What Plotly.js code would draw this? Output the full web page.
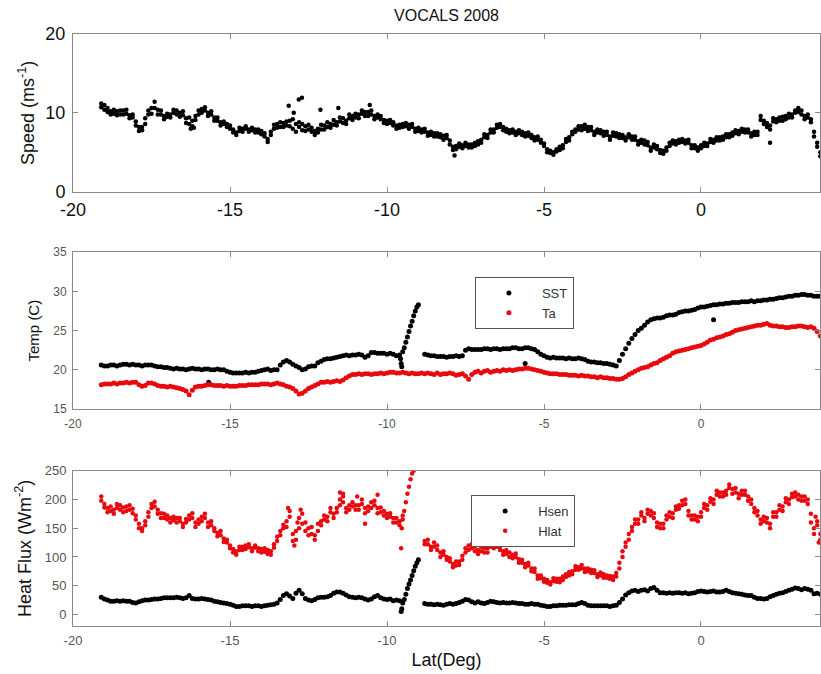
<!DOCTYPE html>
<html>
<head>
<meta charset="utf-8">
<script src="https://cdn.plot.ly/plotly-3.0.1.min.js"></script>
<style>html,body{margin:0;padding:0;background:#fff}#chart{width:821px;height:674px}</style>
</head>
<body>
<div id="chart"></div>
<script>
// Latitude sampling of the ship track (deg)
const lat = [
-19.1,-19,-18.9,-18.8,-18.7,-18.6,-18.5,-18.4,-18.3,-18.2,-18.1,
-18,-17.9,-17.8,-17.7,-17.6,-17.5,-17.4,-17.3,-17.2,-17.1,
-17,-16.9,-16.8,-16.7,-16.6,-16.5,-16.4,-16.3,-16.2,-16.1,
-16,-15.9,-15.8,-15.7,-15.6,-15.5,-15.4,-15.3,-15.2,-15.1,
-15,-14.9,-14.8,-14.7,-14.6,-14.5,-14.4,-14.3,-14.2,-14.1,
-14,-13.9,-13.8,-13.7,-13.6,-13.5,-13.4,-13.3,-13.2,-13.1,
-13,-12.9,-12.8,-12.7,-12.6,-12.5,-12.4,-12.3,-12.2,-12.1,
-12,-11.9,-11.8,-11.7,-11.6,-11.5,-11.4,-11.3,-11.2,-11.1,
-11,-10.9,-10.8,-10.7,-10.6,-10.5,-10.4,-10.3,-10.2,-10.1,
-10,-9.9,-9.8,-9.7,-9.6,-9.5,-9.4,-9.3,-9.2,-9.1,
-9,-8.9,-8.8,-8.7,-8.6,-8.5,-8.4,-8.3,-8.2,-8.1,
-8,-7.9,-7.8,-7.7,-7.6,-7.5,-7.4,-7.3,-7.2,-7.1,
-7,-6.9,-6.8,-6.7,-6.6,-6.5,-6.4,-6.3,-6.2,-6.1,
-6,-5.9,-5.8,-5.7,-5.6,-5.5,-5.4,-5.3,-5.2,-5.1,
-5,-4.9,-4.8,-4.7,-4.6,-4.5,-4.4,-4.3,-4.2,-4.1,
-4,-3.9,-3.8,-3.7,-3.6,-3.5,-3.4,-3.3,-3.2,-3.1,
-3,-2.9,-2.8,-2.7,-2.6,-2.5,-2.4,-2.3,-2.2,-2.1,
-2,-1.9,-1.8,-1.7,-1.6,-1.5,-1.4,-1.3,-1.2,-1.1,
-1,-0.9,-0.8,-0.7,-0.6,-0.5,-0.4,-0.3,-0.2,-0.1,
0,0.1,0.2,0.3,0.4,0.5,0.6,0.7,0.8,0.9,
1,1.1,1.2,1.3,1.4,1.5,1.6,1.7,1.8,1.9,
2,2.1,2.2,2.3,2.4,2.5,2.6,2.7,2.8,2.9,
3,3.1,3.2,3.3,3.4,3.5,3.6,3.7,3.8
];

// Wind speed (m/s), first reading at each latitude
const speed = [
11.2,11.0,10.6,10.2,9.9,10.2,9.8,10.3,9.9,9.7,9.4,
8.9,8.2,7.8,8.6,9.8,10.6,11.4,10.4,9.8,9.6,
9.5,9.8,10.0,10.3,10.0,9.7,9.3,8.6,9.0,9.6,
10.3,10.5,10.3,10.0,9.8,9.4,9.0,8.8,8.6,8.2,
8.0,7.5,7.5,7.7,8.0,8.0,7.9,7.8,7.9,7.5,
7.3,7.0,6.7,7.6,8.5,8.6,8.2,8.7,8.4,9.0,
8.0,8.6,8.2,7.8,8.3,7.9,7.6,7.2,7.5,7.9,
8.4,8.2,8.6,8.5,8.8,8.9,8.7,9.0,9.3,9.6,
9.4,9.8,9.9,9.6,10.1,9.8,9.6,9.4,9.2,9.1,
9.0,8.7,8.4,8.4,8.1,8.6,8.3,8.5,8.2,8.0,
7.7,7.9,7.6,7.5,7.2,7.4,7.0,7.3,7.1,6.8,
6.5,5.3,5.8,5.7,5.9,5.8,6.0,5.6,6.2,6.4,
6.6,6.9,7.2,7.5,7.9,8.1,8.6,8.2,7.6,7.4,
7.5,7.6,7.4,7.2,7.4,7.1,6.8,6.9,6.6,6.2,
5.8,5.0,4.9,5.0,5.1,5.3,5.9,6.3,6.9,7.3,
7.6,7.9,8.3,8.0,8.2,7.8,7.6,7.9,7.4,7.6,
7.2,7.0,7.5,7.0,7.3,6.8,6.9,6.9,7.0,6.6,
6.4,6.2,6.5,5.9,5.6,5.6,5.8,5.3,4.8,5.2,
5.8,6.1,6.4,6.6,6.3,6.5,6.2,5.9,5.5,5.6,
5.9,5.8,6.1,6.3,6.6,6.5,6.9,7.0,6.9,7.3,
7.5,7.4,7.7,7.6,7.9,7.5,7.4,7.2,7.6,9.6,
9.0,8.2,8.4,8.9,9.2,9.4,9.0,9.6,9.4,9.8,
10.0,10.6,9.8,9.6,9.4,8.8,7.0,6.2,5.0
];
// Wind speed (m/s), second reading at each latitude (other edge of the band)
const speedB = [
10.7,10.4,10.1,9.8,10.4,9.7,10.3,9.8,10.4,9.3,9.8,
8.4,7.7,8.2,9.3,10.3,9.9,10.6,9.8,10.3,9.2,
9.9,9.4,10.4,9.8,9.5,10.2,8.7,9.4,8.2,9.1,
9.8,10.0,10.7,9.6,10.2,9.0,9.4,8.4,8.9,8.6,
8.4,7.9,7.2,8.1,7.6,8.3,7.6,8.1,7.5,7.9,
7.7,7.4,6.3,7.2,8.0,8.1,8.8,8.2,8.9,8.3,
9.2,7.6,8.8,8.6,7.7,8.5,8.1,7.7,8.0,8.5,
7.9,8.8,8.1,9.1,8.4,9.4,9.3,8.6,9.8,9.1,
9.9,9.3,10.3,10.1,9.6,10.3,9.2,9.8,9.6,8.7,
8.6,9.1,8.8,8.0,8.5,8.2,8.7,8.0,8.6,7.6,
8.1,7.5,8.0,7.1,7.6,7.0,7.4,6.9,6.6,7.2,
6.0,5.7,5.4,6.1,5.5,6.2,5.6,6.0,5.8,6.0,
6.2,7.3,6.8,7.9,7.5,8.5,8.2,7.8,8.0,7.8,
7.9,7.2,7.8,7.6,7.0,7.5,7.2,6.5,7.0,6.6,
6.1,5.4,5.2,4.7,5.4,5.7,5.5,6.7,6.5,7.6,
7.9,8.3,7.8,8.5,7.7,8.2,7.2,7.5,7.8,7.1,
7.6,6.6,7.1,7.4,6.8,7.2,6.5,7.3,6.6,7.0,
6.0,6.6,6.0,6.3,5.2,6.0,5.4,4.9,5.2,5.6,
6.2,6.5,6.0,6.2,6.7,6.1,6.6,5.5,5.9,5.2,
5.5,6.2,5.8,6.7,6.2,6.9,6.5,6.6,7.3,6.9,
7.1,7.8,7.3,8.0,7.5,7.9,7.0,7.6,7.2,9.1,
8.6,8.7,7.9,9.3,8.8,9.0,9.5,9.2,9.9,9.4,
10.3,10.1,10.3,9.2,9.8,9.2,7.6,5.7,4.5
];
// Scattered extra speed readings
const speedExtraLat = [-16.25,-16.2,-16.15,-13.13,-12.97,-12.81,-12.71,-12.12,-11.55,-10.55,2.2,-7.85];
const speedExtra    = [8.0,8.3,8.1,10.9,10.0,11.7,11.9,10.4,10.6,11.0,6.2,4.6];

// Sea-surface temperature (C)
const sst = [
20.6,20.5,20.5,20.6,20.6,20.5,20.6,20.7,20.7,20.6,20.7,
20.6,20.6,20.5,20.6,20.6,20.6,20.5,20.4,20.4,20.3,
20.3,20.2,20.1,20.2,20.1,20.1,20.0,20.1,20.2,20.1,
20.1,20.0,20.1,20.1,20.0,20.0,20.1,20.0,20.0,19.8,
19.7,19.6,19.6,19.6,19.6,19.7,19.6,19.7,19.7,19.8,
19.9,20.0,20.1,19.9,20.0,20.0,20.6,21.0,21.2,21.0,
20.7,20.5,20.3,20.0,20.1,20.4,20.5,20.5,20.9,21.1,
21.3,21.4,21.4,21.5,21.6,21.7,21.8,21.9,21.8,21.9,
21.9,22.0,21.9,21.6,21.8,22.2,22.2,22.1,22.1,22.1,
22.0,22.1,22.0,21.8,21.9,22.3,23.5,24.9,26.2,27.5,
28.3,null,22.0,21.9,21.8,21.8,21.7,21.7,21.7,21.6,
21.7,21.7,21.8,21.7,21.8,22.5,22.7,22.6,22.6,22.6,
22.6,22.7,22.7,22.6,22.7,22.7,22.6,22.7,22.7,22.7,
22.8,22.8,22.7,22.7,22.8,22.8,22.7,22.6,22.3,22.0,
21.8,21.6,21.5,21.6,21.5,21.5,21.5,21.4,21.5,21.4,
21.4,21.5,21.4,21.3,21.1,21.0,21.0,20.9,20.9,20.8,
20.8,20.7,20.6,20.5,21.2,22.0,22.7,23.4,24.0,24.5,
25.0,25.3,25.7,26.1,26.4,26.5,26.6,26.6,26.7,26.9,
27.0,27.0,27.1,27.3,27.4,27.5,27.5,27.6,27.7,27.9,
28.0,28.0,28.1,28.2,28.3,28.3,28.4,28.4,28.5,28.5,
28.6,28.6,28.6,28.7,28.7,28.7,28.8,28.7,28.8,28.8,
28.9,28.9,29.0,29.0,29.1,29.2,29.2,29.3,29.4,29.4,
29.5,29.5,29.6,29.6,29.5,29.5,29.4,29.4,29.4
];
const sstExtraLat = [-9.45,-9.35,-9.25,-9.15,-9.05,-9.57,-9.55,-9.53,-15.68,-5.6,0.4];
const sstExtra    = [22.8,24.2,25.6,26.9,28.0,21.4,20.8,20.4,18.4,20.8,26.4];

// Air temperature (C)
const ta = [
18.1,18.2,18.2,18.2,18.3,18.2,18.3,18.3,18.4,18.3,18.4,
18.4,18.1,17.9,18.0,18.3,18.3,18.2,18.0,17.9,17.9,
17.8,17.9,17.8,17.7,17.6,17.5,17.3,16.8,17.4,17.8,
17.9,17.9,18.0,18.1,18.1,18.0,18.0,18.0,17.9,18.0,
17.9,17.9,17.9,18.0,18.0,18.0,18.1,18.1,18.1,18.1,
18.2,18.2,18.2,18.1,18.2,18.3,18.2,18.1,17.9,17.8,
17.6,17.3,16.9,17.0,17.3,17.6,17.8,18.0,18.2,18.4,
18.4,18.5,18.4,18.5,18.6,18.5,18.7,19.0,19.2,19.4,
19.4,19.5,19.4,19.5,19.5,19.4,19.5,19.5,19.6,19.5,
19.6,19.7,19.7,19.6,19.6,19.7,19.6,19.5,19.6,19.5,
19.5,19.6,19.5,19.6,19.5,19.4,19.6,19.4,19.5,19.5,
19.6,19.5,19.3,19.4,19.5,19.2,18.8,19.4,19.7,19.8,
19.6,19.8,19.9,19.7,19.8,19.9,19.8,20.0,19.9,20.0,
19.9,20.0,20.1,20.1,20.2,20.2,20.1,20.0,19.9,19.8,
19.7,19.6,19.5,19.5,19.5,19.4,19.4,19.4,19.3,19.3,
19.3,19.2,19.3,19.2,19.2,19.1,19.1,19.0,19.1,19.0,
19.0,18.9,18.9,18.8,18.8,18.9,19.1,19.4,19.6,19.8,
20.0,20.2,20.3,20.4,20.6,20.8,20.9,21.2,21.4,21.6,
21.8,22.1,22.3,22.4,22.5,22.6,22.7,22.8,22.9,23.0,
23.1,23.3,23.5,23.8,23.9,24.1,24.2,24.3,24.5,24.6,
24.8,25.0,25.1,25.2,25.3,25.4,25.5,25.6,25.7,25.7,
25.8,25.9,25.7,25.6,25.6,25.5,25.5,25.4,25.4,25.5,
25.5,25.6,25.6,25.5,25.4,25.5,25.3,24.9,24.3
];

// Sensible heat flux (W/m2)
const hsen = [
30,27,25,23,23,24,23,24,23,23,21,
20,22,24,25,25,26,27,27,28,29,
29,29,29,30,29,28,29,33,28,27,
27,28,27,26,25,23,22,21,20,19,
18,16,14,14,15,15,15,14,15,15,
14,15,16,17,18,20,26,33,36,32,
28,37,42,36,28,25,24,26,29,30,
30,31,33,37,39,39,37,34,31,30,
29,30,29,27,25,27,31,33,29,27,
26,27,24,25,24,20,35,53,68,84,
95,null,19,18,18,17,18,17,16,18,
19,18,19,21,23,26,25,22,20,22,
20,19,21,23,22,21,20,21,20,20,
21,20,19,19,18,18,19,18,18,16,
15,14,14,15,15,16,16,16,17,17,
17,19,21,19,16,15,15,15,15,15,
15,14,15,16,21,27,34,38,41,42,
40,42,43,41,45,47,42,38,38,37,
38,37,38,38,37,38,36,37,38,40,
41,40,39,40,41,39,39,40,42,40,
38,37,36,35,34,33,33,30,28,28,
27,28,31,33,35,37,38,40,42,44,
46,45,43,45,44,42,36,37,35
];
const hsenExtraLat = [-9.45,-9.35,-9.25,-9.15,-9.05,-9.55,-9.53];
const hsenExtra    = [26,45,60,76,90,5,10];

// Latent heat flux (W/m2), first reading at each latitude
const hlat = [
205,192,185,180,182,185,190,186,188,182,184,
172,158,150,155,170,192,196,182,176,168,
165,168,164,168,162,152,160,172,168,160,
158,170,168,160,155,145,142,138,132,125,
115,108,110,112,118,120,117,115,116,110,
108,115,105,110,122,135,145,150,162,170,
140,130,150,175,160,150,140,138,145,162,
165,170,178,175,185,200,195,185,190,188,
182,190,192,185,180,195,190,185,178,180,
175,170,168,160,162,165,195,222,245,null,
null,null,128,122,118,125,112,108,104,100,
92,88,85,92,95,108,120,115,110,112,
110,108,115,118,122,118,112,110,105,108,
104,100,96,90,88,85,80,74,68,63,
57,55,56,58,57,62,60,65,68,75,
78,82,86,80,75,78,72,70,68,70,
64,62,66,72,80,100,118,130,145,158,
165,172,168,175,180,168,160,150,158,165,
170,176,182,190,198,192,180,172,165,170,
178,185,190,196,200,208,212,205,215,220,
218,212,210,215,208,205,200,185,172,165,
170,160,158,170,178,182,188,195,200,210,
205,200,205,198,200,175,150,155,140
];
// Latent heat flux (W/m2), second reading at each latitude
const hlatB = [
198,186,178,188,175,192,182,178,180,190,176,
165,150,145,162,178,185,188,175,168,175,
172,160,170,160,168,158,166,165,176,152,
165,162,175,152,162,150,136,145,126,130,
120,114,104,118,112,114,122,110,120,115,
114,109,112,104,116,128,138,156,152,180,
128,145,168,158,145,138,152,130,158,155,
172,162,185,168,178,190,205,178,182,195,
190,182,200,176,188,185,198,176,186,172,
168,176,160,168,155,172,null,null,null,null,
null,null,122,130,112,118,120,100,110,95,
98,82,92,86,102,115,112,122,118,105,
118,115,108,125,115,125,118,104,112,100,
98,106,90,95,82,90,75,80,62,68,
62,60,52,63,62,56,66,70,74,70,
84,78,80,74,80,72,77,65,73,64,
68,67,60,66,90,110,125,140,152,165,
158,178,162,182,172,176,152,158,150,172,
178,168,188,184,190,200,172,165,172,162,
170,192,182,202,192,215,205,212,208,226,
210,220,202,208,215,198,192,178,180,158,
162,168,150,178,170,190,180,202,192,204,
212,208,198,205,192,160,140,162,130
];
const hlatExtraLat = [-9.45,-9.35,-9.25,-9.15,-9.55,-9.53,-13.15,-12.95,-12.85,-12.75,-11.5,-11.4,-10.95,-10.7,-10.3,3.65,3.75];
const hlatExtra    = [180,210,235,250,115,150,185,120,160,182,212,210,205,158,208,170,125];

// Axis ticks
const latTicks = [-20,-15,-10,-5,0];
const latTickText = ["-20","-15","-10","-5","0"];
const speedTicks = [0,10,20];
const tempTicks = [15,20,25,30,35];
const fluxTicks = [0,50,100,150,200,250];

const FONT = "Liberation Sans, Arial, sans-serif";
const BLACK = "#000000", RED = "#e8090f";
const LINE = "#8a8a8a";

function xax(anchor, fs, color, standoff) {
  return {
    anchor: anchor, range: [-20, 3.79], showline: true, mirror: 'ticks',
    linecolor: LINE, linewidth: 1, ticks: 'inside', ticklen: 5, tickcolor: LINE,
    tickvals: latTicks, ticktext: latTickText, showgrid: false, zeroline: false,
    tickfont: {family: FONT, size: fs, color: color}, ticklabelstandoff: standoff
  };
}
function yax(anchor, domain, range, ticks, fs, color, title, tfs, tstand) {
  return {
    anchor: anchor, domain: domain, range: range, showline: true, mirror: 'ticks',
    linecolor: LINE, linewidth: 1, ticks: 'inside', ticklen: 5, tickcolor: LINE,
    tickvals: ticks, showgrid: false, zeroline: false,
    tickfont: {family: FONT, size: fs, color: color}, ticklabelstandoff: 3,
    title: {text: title, font: {family: FONT, size: tfs, color: '#111'}, standoff: tstand}
  };
}

const traces = [
  {x: lat.concat(lat, speedExtraLat), y: speed.concat(speedB, speedExtra), xaxis: 'x', yaxis: 'y',
   type: 'scatter', mode: 'markers', marker: {color: BLACK, size: 4.5}, showlegend: false, name: 'Speed'},
  {x: lat.concat(sstExtraLat), y: sst.concat(sstExtra), xaxis: 'x2', yaxis: 'y2',
   type: 'scatter', mode: 'markers', marker: {color: BLACK, size: 5}, name: 'SST', legend: 'legend2'},
  {x: lat, y: ta, xaxis: 'x2', yaxis: 'y2',
   type: 'scatter', mode: 'markers', marker: {color: RED, size: 5}, name: 'Ta', legend: 'legend2'},
  {x: lat.concat(hsenExtraLat), y: hsen.concat(hsenExtra), xaxis: 'x3', yaxis: 'y3',
   type: 'scatter', mode: 'markers', marker: {color: BLACK, size: 5}, name: 'Hsen', legend: 'legend3'},
  {x: lat.concat(lat, hlatExtraLat), y: hlat.concat(hlatB, hlatExtra), xaxis: 'x3', yaxis: 'y3',
   type: 'scatter', mode: 'markers', marker: {color: RED, size: 4.5}, name: 'Hlat', legend: 'legend3'}
];

const legendStyle = (x, y) => ({
  x: x, y: y, xref: 'paper', yref: 'paper', xanchor: 'left', yanchor: 'top',
  bgcolor: '#ffffff', bordercolor: '#555555', borderwidth: 1,
  font: {family: FONT, size: 13, color: '#333'}, itemwidth: 56, tracegroupgap: 0
});

const layout = {
  width: 821, height: 674,
  margin: {l: 73, r: 1, t: 34, b: 48},
  paper_bgcolor: '#ffffff', plot_bgcolor: '#ffffff',
  title: {text: 'VOCALS 2008', font: {family: FONT, size: 16, color: '#111'},
          x: 0.5, xref: 'paper', y: 1 - 15/674, yref: 'container', yanchor: 'middle'},
  xaxis: xax('y', 18, '#111', 2),
  yaxis: yax('x', [0.7336, 1.0], [0, 20], speedTicks, 18, '#111', 'Speed (ms<sup>-1</sup>)', 18, 6),
  xaxis2: xax('y2', 12, '#555', 4),
  yaxis2: yax('x2', [0.3666, 0.6313], [15, 35], tempTicks, 12, '#555', 'Temp (C)', 15, 9),
  xaxis3: Object.assign(xax('y3', 13, '#555', 2),
          {title: {text: 'Lat(Deg)', font: {family: FONT, size: 18, color: '#111'}, standoff: 6}}),
  yaxis3: yax('x3', [0, 0.2623], [-20, 250], fluxTicks, 13, '#555', 'Heat Flux (Wm<sup>-2</sup>)', 18, 8),
  showlegend: true,
  legend2: legendStyle(0.538, 0.5895),
  legend3: legendStyle(0.533, 0.2213)
};

Plotly.newPlot('chart', traces, layout, {displayModeBar: false, staticPlot: true});
</script>
</body>
</html>
